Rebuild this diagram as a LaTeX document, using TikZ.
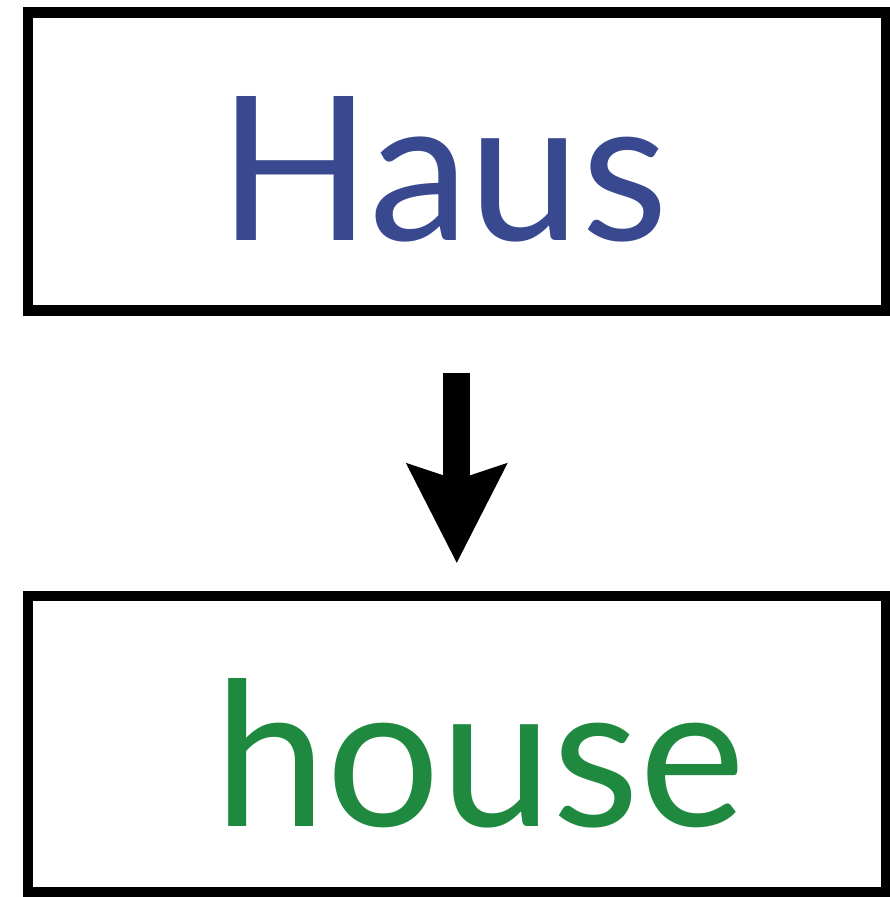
\documentclass[tikz,border=0pt]{standalone}
\usepackage{fontspec}
\setmainfont{Lato}
\usepackage{tikz}
\usetikzlibrary{arrows.meta}
\definecolor{hausblue}{RGB}{57,73,143}
\definecolor{housegreen}{RGB}{31,138,63}

\begin{document}
\begin{tikzpicture}[x=1pt,y=-1pt,
        wordbox/.style={draw, line width=10.5pt, minimum width=858pt, inner sep=0pt, text depth=0pt},
        wordfont/.style={font=\fontsize{201}{201}\selectfont}]
        \useasboundingbox (0,0) rectangle (889,897);
        \node[wordbox, wordfont, minimum height=298pt, text height=157.5pt, text=hausblue] at (456.75,161.25) (haus){\hspace*{-27pt}Haus};
        \node[wordbox, wordfont, minimum height=296pt, text height=164pt, text=housegreen] at (456.75,744) (house){\hspace*{47pt}house};
        \draw[line width=27pt, -{Stealth[length=100pt, width=102pt, inset=17pt, line width=0pt]}, shorten <=57pt, shorten >=28pt] (haus) -- (house);
      \end{tikzpicture}
\end{document}
